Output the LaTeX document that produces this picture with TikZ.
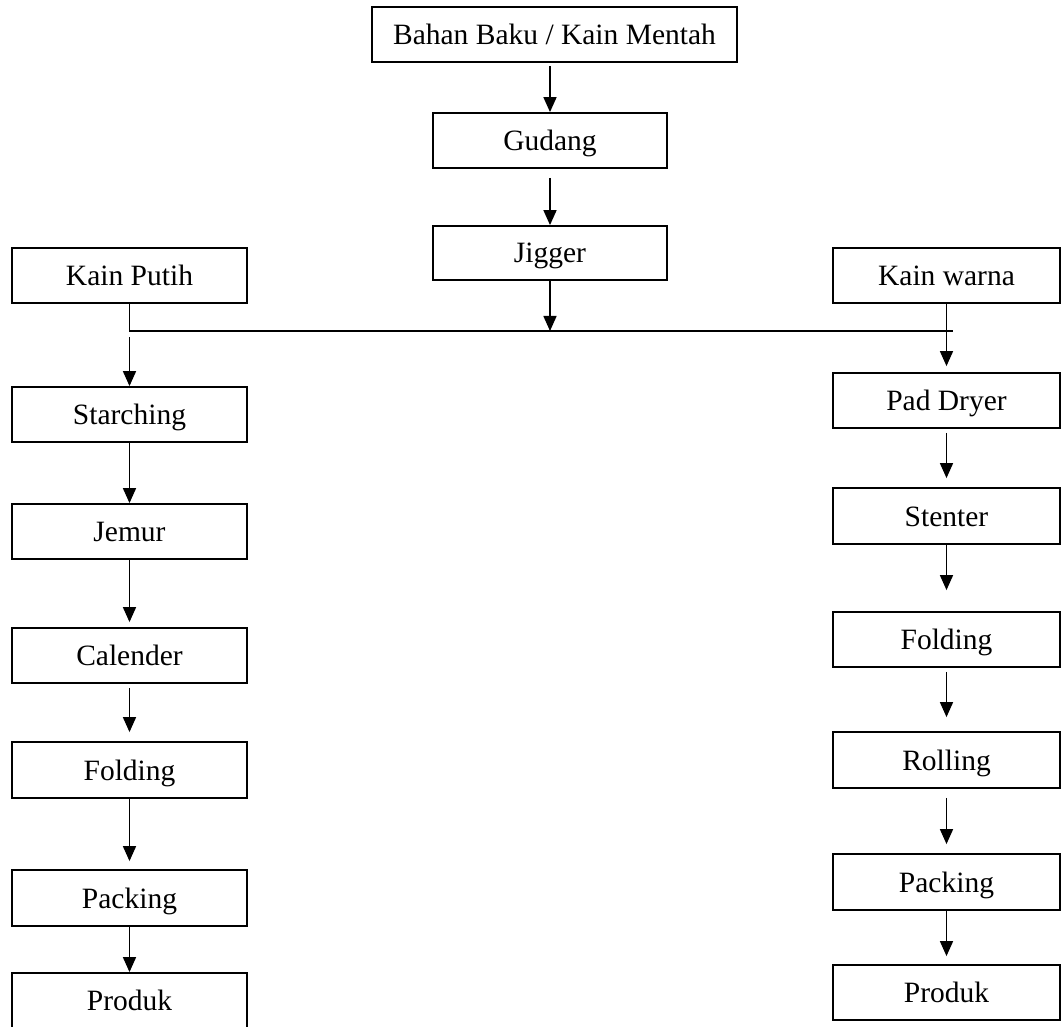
\documentclass[tikz,border=0pt]{standalone}
\usepackage{fontspec}
\setmainfont{Liberation Serif}
\usetikzlibrary{arrows.meta}
\begin{document}
\begin{tikzpicture}[x=1pt,y=-1pt,
  box/.style={draw, line width=1.8pt, rectangle, inner sep=0pt,
    minimum width=#1, minimum height=55pt,
    text height=20pt, text depth=0pt,
    font=\fontsize{29.5}{35}\selectfont},
  box/.default=235pt,
  arr/.style={line width=1.6pt, -{Triangle[length=15pt,width=13pt]}},
  ln/.style={line width=1.6pt}]
\useasboundingbox (0,0) rectangle (1061,1027);
% centre column
\node[box=365pt] (bb) at (554.5,34.5) {Bahan Baku / Kain Mentah};
\node[box=234pt] (gd) at (550,140.5) {Gudang};
\node[box=234pt, minimum height=54pt] (jg) at (550,253) {Jigger};
% left column
\node[box] (kp) at (129.5,275.5) {Kain Putih};
\node[box] (st) at (129.5,414.5) {Starching};
\node[box] (jm) at (129.5,531.5) {Jemur};
\node[box] (cl) at (129.5,655.5) {Calender};
\node[box, minimum height=56pt] (fl) at (129.5,770) {Folding};
\node[box, minimum height=56pt] (pl) at (129.5,898) {Packing};
\node[box] (prl) at (129.5,1000.5) {Produk};
% right column
\node[box=227pt] (kw) at (946.5,275.5) {Kain warna};
\node[box=227pt] (pd) at (946.5,400.5) {Pad Dryer};
\node[box=227pt, minimum height=56pt] (sn) at (946.5,516) {Stenter};
\node[box=227pt] (fr) at (946.5,639.5) {Folding};
\node[box=227pt, minimum height=56pt] (rl) at (946.5,760) {Rolling};
\node[box=227pt, minimum height=56pt] (pr) at (946.5,882) {Packing};
\node[box=227pt] (prr) at (946.5,992.5) {Produk};
% junction
\coordinate (jR) at (953,331);
\coordinate (jM) at (550,331);
\coordinate (sL) at (129.5,337);
% centre connectors
\draw[arr, shorten <=3pt] (bb.south -| gd.north) -- (gd.north);
\draw[arr, shorten <=9pt] (gd.south) -- (jg.north);
\draw[arr] (jg.south) -- (jM);
\draw[ln] (kp.south) |- (jR);
% left connectors
\draw[arr] (sL) -- (st.north);
\draw[arr] (st.south) -- (jm.north);
\draw[arr, shorten >=5pt] (jm.south) -- (cl.north);
\draw[arr, shorten <=4pt, shorten >=9pt] (cl.south) -- (fl.north);
\draw[arr, shorten >=8pt] (fl.south) -- (pl.north);
\draw[arr] (pl.south) -- (prl.north);
% right connectors
\draw[arr, shorten >=6pt] (kw.south) -- (pd.north);
\draw[arr, shorten <=4pt, shorten >=9pt] (pd.south) -- (sn.north);
\draw[arr, shorten >=21pt] (sn.south) -- (fr.north);
\draw[arr, shorten <=4pt, shorten >=14pt] (fr.south) -- (rl.north);
\draw[arr, shorten <=9pt, shorten >=9pt] (rl.south) -- (pr.north);
\draw[arr, shorten >=8pt] (pr.south) -- (prr.north);
\end{tikzpicture}
\end{document}
